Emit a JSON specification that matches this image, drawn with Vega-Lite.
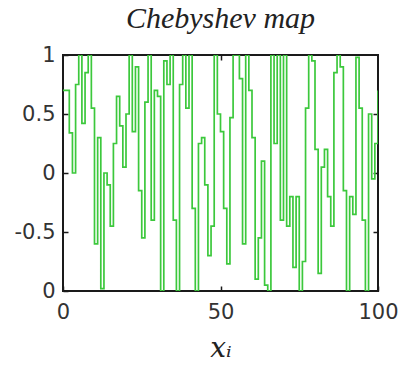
{
  "$schema": "https://vega.github.io/schema/vega-lite/v6.json",
  "autosize": {"type": "none"},
  "padding": {"left": 63, "top": 55, "right": 23, "bottom": 84},
  "width": 315,
  "height": 236,
  "background": "white",
  "title": {
    "text": "Chebyshev map",
    "font": "Liberation Serif",
    "fontStyle": "italic",
    "fontWeight": "normal",
    "fontSize": 30,
    "color": "#222222",
    "offset": 10
  },
  "config": {
    "view": {"stroke": "#1a1a1a", "strokeWidth": 2},
    "axis": {
      "domain": false,
      "grid": false,
      "offset": -5,
      "tickColor": "#1a1a1a",
      "tickWidth": 1.5,
      "tickSize": 5,
      "labelFlush": false,
      "labelOverlap": false,
      "labelFont": "DejaVu Sans",
      "labelFontSize": 21,
      "labelColor": "#333333",
      "titleColor": "#222222"
    }
  },
  "data": {
    "values": [
      {"i": 0, "x": 0.70}, {"i": 1, "x": 0.70}, {"i": 2, "x": 0.34}, {"i": 3, "x": 0.00},
      {"i": 4, "x": 0.75}, {"i": 5, "x": 1.00}, {"i": 6, "x": 0.42}, {"i": 7, "x": 0.85},
      {"i": 8, "x": 1.00}, {"i": 9, "x": 0.55}, {"i": 10, "x": -0.60}, {"i": 11, "x": 0.30},
      {"i": 12, "x": -0.98}, {"i": 13, "x": 0.00}, {"i": 14, "x": -0.10}, {"i": 15, "x": -0.45},
      {"i": 16, "x": 0.25}, {"i": 17, "x": 0.65}, {"i": 18, "x": 0.40}, {"i": 19, "x": 0.05},
      {"i": 20, "x": 0.50}, {"i": 21, "x": 1.00}, {"i": 22, "x": 0.35}, {"i": 23, "x": 0.90},
      {"i": 24, "x": -0.15}, {"i": 25, "x": -0.55}, {"i": 26, "x": 0.60}, {"i": 27, "x": 1.00},
      {"i": 28, "x": -0.40}, {"i": 29, "x": 0.70}, {"i": 30, "x": 0.65}, {"i": 31, "x": -1.00},
      {"i": 32, "x": 0.95}, {"i": 33, "x": 0.75}, {"i": 34, "x": 1.00}, {"i": 35, "x": -0.40},
      {"i": 36, "x": -1.00}, {"i": 37, "x": 0.75}, {"i": 38, "x": 1.00}, {"i": 39, "x": 0.55},
      {"i": 40, "x": 1.00}, {"i": 41, "x": -0.30}, {"i": 42, "x": -1.00}, {"i": 43, "x": 0.25},
      {"i": 44, "x": 0.30}, {"i": 45, "x": -0.10}, {"i": 46, "x": -0.70}, {"i": 47, "x": -0.45},
      {"i": 48, "x": 1.00}, {"i": 49, "x": 0.50}, {"i": 50, "x": 0.35}, {"i": 51, "x": -0.30},
      {"i": 52, "x": -0.77}, {"i": 53, "x": 0.47}, {"i": 54, "x": 1.00}, {"i": 55, "x": 1.00},
      {"i": 56, "x": 0.80}, {"i": 57, "x": -0.60}, {"i": 58, "x": 1.00}, {"i": 59, "x": 0.70},
      {"i": 60, "x": 0.30}, {"i": 61, "x": -0.90}, {"i": 62, "x": -0.55}, {"i": 63, "x": 0.10},
      {"i": 64, "x": -0.95}, {"i": 65, "x": -1.00}, {"i": 66, "x": 1.00}, {"i": 67, "x": 0.25},
      {"i": 68, "x": 1.00}, {"i": 69, "x": -0.40}, {"i": 70, "x": 1.00}, {"i": 71, "x": -0.45},
      {"i": 72, "x": -0.20}, {"i": 73, "x": -0.80}, {"i": 74, "x": -0.20}, {"i": 75, "x": -1.00},
      {"i": 76, "x": -0.75}, {"i": 77, "x": 0.55}, {"i": 78, "x": 1.00}, {"i": 79, "x": 0.95},
      {"i": 80, "x": 0.20}, {"i": 81, "x": -0.85}, {"i": 82, "x": 0.05}, {"i": 83, "x": 0.20},
      {"i": 84, "x": -0.20}, {"i": 85, "x": -0.45}, {"i": 86, "x": 0.85}, {"i": 87, "x": 1.00},
      {"i": 88, "x": 0.90}, {"i": 89, "x": -0.15}, {"i": 90, "x": -1.00}, {"i": 91, "x": -0.20},
      {"i": 92, "x": -0.35}, {"i": 93, "x": 0.98}, {"i": 94, "x": 0.55}, {"i": 95, "x": -0.40},
      {"i": 96, "x": -1.00}, {"i": 97, "x": 0.50}, {"i": 98, "x": -0.05}, {"i": 99, "x": 0.25},
      {"i": 100, "x": 0.70}
    ]
  },
  "layer": [
    {
      "mark": {"type": "line", "interpolate": "step-after", "color": "#3cc83c", "strokeWidth": 1.7, "clip": true},
      "encoding": {
        "x": {
          "field": "i", "type": "quantitative",
          "scale": {"domain": [0, 100], "nice": false, "zero": false},
          "axis": {
            "orient": "bottom", "values": [0, 50, 100], "labelPadding": 10,
            "title": "xᵢ", "titleFont": "DejaVu Serif", "titleFontStyle": "italic",
            "titleFontWeight": "normal", "titleFontSize": 28, "titlePadding": 12
          }
        },
        "y": {
          "field": "x", "type": "quantitative",
          "scale": {"domain": [-1, 1], "nice": false},
          "axis": {
            "orient": "left", "values": [-1, -0.5, 0, 0.5, 1], "labelPadding": 8,
            "labelExpr": "datum.value === -1 ? '0' : toString(datum.value)", "title": null
          }
        }
      }
    },
    {
      "mark": {"type": "line", "opacity": 0},
      "encoding": {
        "x": {
          "field": "i", "type": "quantitative",
          "scale": {"domain": [0, 100], "nice": false, "zero": false},
          "axis": {"orient": "top", "values": [50], "labels": false, "title": null}
        },
        "y": {
          "field": "x", "type": "quantitative",
          "scale": {"domain": [-1, 1], "nice": false},
          "axis": {"orient": "right", "values": [-0.5, 0, 0.5], "labels": false, "title": null}
        }
      }
    }
  ],
  "resolve": {"axis": {"x": "independent", "y": "independent"}}
}
